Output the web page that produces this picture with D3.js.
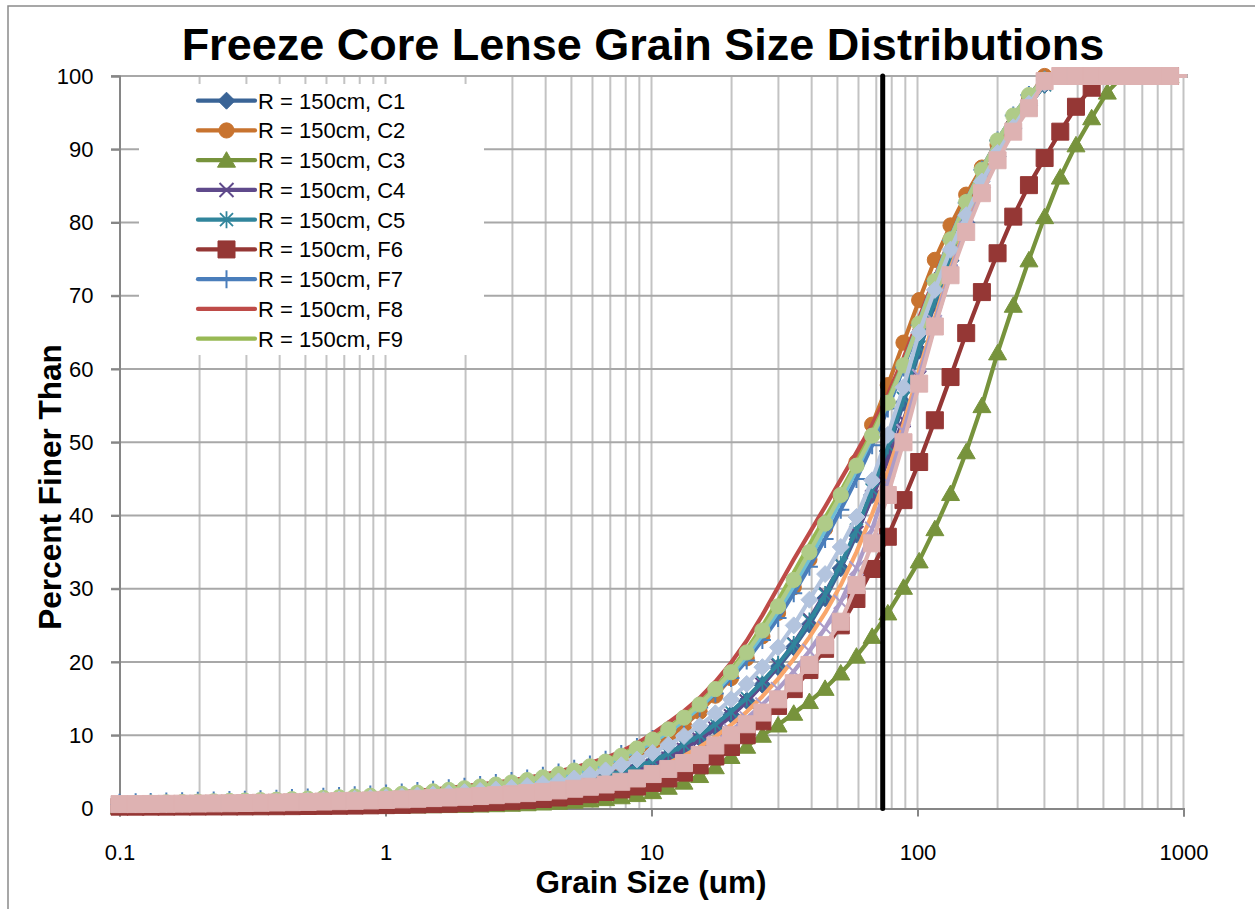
<!DOCTYPE html>
<html><head><meta charset="utf-8">
<script src="https://cdn.jsdelivr.net/npm/d3@7"></script>
<style>
body{margin:0;background:#fff;}
svg{display:block;font-family:"Liberation Sans",Arial,sans-serif;}
</style>
</head><body>
<svg id="chart" width="1255" height="909"></svg>
<script>
// ---------------- DATA ----------------
const sizes = [0.100,0.115,0.131,0.150,0.172,0.197,0.226,0.259,0.296,0.339,
  0.389,0.445,0.510,0.584,0.669,0.766,0.877,1.005,1.151,1.318,
  1.510,1.729,1.981,2.269,2.599,2.976,3.409,3.905,4.472,5.122,
  5.867,6.720,7.697,8.816,10.097,11.565,13.246,15.172,17.377,19.904,
  22.797,26.111,29.907,34.255,39.234,44.938,51.471,58.953,67.523,77.339,
  88.583,101.460,116.210,133.103,152.453,174.616,200.000,229.075,262.376,300.518,
  344.206,394.244,451.556,517.200,592.387,678.504,777.141,890.116,1019.515];

const C1 = [0.55,0.57,0.59,0.61,0.64,0.67,0.7,0.74,0.78,0.83,
  0.88,0.93,0.99,1.06,1.13,1.21,1.3,1.4,1.5,1.62,
  1.75,1.88,2.03,2.19,2.37,2.56,2.78,3.02,3.3,3.62,
  3.98,4.4,4.92,5.55,6.3,7.2,8.3,9.6,11.1,12.8,
  14.7,16.9,19.3,22.0,25.1,28.7,32.8,37.4,42.8,48.8,
  55.4,62.5,69.0,74.8,80.0,84.8,89.0,92.8,96.0,98.8,
  100,100,100,100,100,100,100,100,100];
const C2 = [0.52,0.53,0.55,0.56,0.58,0.6,0.62,0.65,0.68,0.7,
  0.75,0.8,0.85,0.9,0.95,1.0,1.1,1.2,1.3,1.4,
  1.5,1.65,1.8,1.95,2.15,2.4,2.7,3.0,3.4,3.9,
  4.5,5.2,6.0,7.0,8.2,9.6,11.3,13.2,15.4,17.8,
  20.5,23.5,26.7,30.2,34.0,38.2,42.6,47.3,52.4,57.8,
  63.6,69.4,74.9,79.6,83.8,87.5,90.6,93.3,97.2,100,
  100,100,100,100,100,100,100,100,100];
const C3 = [0.2,0.2,0.2,0.2,0.21,0.21,0.22,0.22,0.23,0.24,
  0.25,0.26,0.27,0.28,0.29,0.3,0.31,0.32,0.33,0.35,
  0.37,0.4,0.43,0.47,0.52,0.58,0.65,0.75,0.85,1.0,
  1.15,1.35,1.6,1.9,2.3,2.9,3.6,4.5,5.7,7.1,
  8.5,10.0,11.4,13.0,14.6,16.4,18.5,20.8,23.5,26.7,
  30.2,33.8,38.2,43.0,48.7,55.0,62.2,68.7,74.9,80.8,
  86.2,90.6,94.3,97.8,100,100,100,100,100];
const C4 = [0.52,0.54,0.56,0.58,0.6,0.63,0.66,0.69,0.73,0.77,
  0.81,0.86,0.91,0.97,1.03,1.1,1.18,1.27,1.36,1.46,
  1.57,1.69,1.82,1.96,2.11,2.27,2.44,2.63,2.85,3.1,
  3.4,3.8,4.3,5.0,5.8,6.8,8.0,9.4,10.9,12.6,
  14.6,16.9,19.5,22.5,25.8,29.4,33.3,37.6,42.5,47.5,
  53.0,58.8,66.0,73.2,79.3,84.6,89.0,92.8,96.0,99.4,
  100,100,100,100,100,100,100,100,100];
const C5 = [0.55,0.57,0.6,0.62,0.65,0.68,0.72,0.76,0.8,0.85,
  0.9,0.96,1.02,1.09,1.17,1.25,1.34,1.44,1.55,1.67,
  1.8,1.94,2.09,2.25,2.43,2.63,2.85,3.1,3.38,3.7,
  4.05,4.5,5.05,5.7,6.5,7.5,8.7,10.0,11.5,13.2,
  15.1,17.3,19.7,22.4,25.6,29.2,33.3,38.0,43.5,49.5,
  56.0,63.0,69.5,75.0,80.0,84.8,89.0,92.8,96.0,98.8,
  100,100,100,100,100,100,100,100,100];
const F6 = [0.25,0.25,0.26,0.26,0.27,0.27,0.28,0.28,0.29,0.3,
  0.31,0.32,0.34,0.36,0.38,0.4,0.43,0.46,0.5,0.55,
  0.6,0.65,0.72,0.8,0.9,1.0,1.15,1.3,1.5,1.7,
  1.95,2.25,2.6,3.0,3.5,4.1,4.9,5.9,7.1,8.4,
  10.0,11.9,14.0,16.3,18.9,21.8,25.0,28.6,32.7,37.1,
  42.1,47.3,53.0,58.9,64.9,70.5,75.8,80.8,85.1,88.8,
  92.4,95.8,98.4,100,100,100,100,100,100];
const F7 = [0.8,0.85,0.9,0.95,1.0,1.05,1.1,1.15,1.2,1.27,
  1.34,1.42,1.5,1.6,1.7,1.8,1.92,2.05,2.2,2.38,
  2.56,2.76,2.98,3.22,3.48,3.77,4.1,4.48,4.92,5.42,
  6.0,6.65,7.45,8.4,9.5,10.8,12.2,13.8,15.7,17.8,
  20.2,23.0,26.0,29.4,33.0,36.8,40.8,45.0,49.6,54.6,
  60.2,66.0,72.0,77.6,82.7,87.2,91.2,94.6,97.4,99.5,
  100,100,100,100,100,100,100,100,100];
const F8 = [0.8,0.85,0.9,0.95,1.0,1.05,1.1,1.15,1.2,1.27,
  1.34,1.42,1.5,1.6,1.7,1.8,1.92,2.05,2.2,2.4,
  2.6,2.8,3.05,3.3,3.55,3.85,4.2,4.6,5.05,5.6,
  6.2,6.9,7.8,8.9,10.2,11.7,13.3,15.1,17.3,19.9,
  22.9,26.4,30.2,34.0,37.6,41.2,44.9,48.6,52.4,56.5,
  61.5,67.0,72.5,78.0,83.0,87.3,91.2,94.5,97.3,99.4,
  100,100,100,100,100,100,100,100,100];
const F9 = [0.75,0.8,0.84,0.88,0.93,0.98,1.03,1.08,1.13,1.19,
  1.26,1.33,1.41,1.5,1.6,1.7,1.81,1.94,2.08,2.25,
  2.45,2.65,2.88,3.12,3.38,3.67,4.0,4.38,4.8,5.3,
  5.88,6.55,7.4,8.4,9.6,11.0,12.6,14.4,16.5,18.9,
  21.7,24.9,28.4,32.2,36.0,39.7,43.3,47.2,51.3,55.8,
  60.8,66.4,72.2,77.8,82.9,87.3,91.2,94.6,97.4,99.5,
  100,100,100,100,100,100,100,100,100];
const F10 = [0.65,0.68,0.71,0.74,0.77,0.81,0.85,0.89,0.94,0.99,
  1.04,1.1,1.17,1.24,1.32,1.41,1.51,1.62,1.74,1.88,
  2.03,2.2,2.4,2.62,2.87,3.15,3.48,3.85,4.3,4.8,
  5.4,6.1,6.9,7.9,9.0,10.4,12.0,13.8,15.9,18.2,
  20.8,23.7,26.9,30.4,34.1,38.0,42.0,46.2,50.6,55.3,
  60.6,66.4,72.3,77.9,82.9,87.3,91.2,94.6,97.4,99.5,
  100,100,100,100,100,100,100,100,100];
const F11 = [0.5,0.52,0.54,0.56,0.58,0.6,0.63,0.66,0.69,0.72,
  0.76,0.8,0.85,0.9,0.95,1.01,1.08,1.15,1.23,1.32,
  1.42,1.53,1.65,1.78,1.92,2.07,2.23,2.41,2.61,2.84,
  3.15,3.55,4.05,4.65,5.35,6.2,7.2,8.4,9.8,11.4,
  13.2,15.3,17.7,20.4,23.4,26.7,30.5,35.0,40.2,46.0,
  52.5,59.8,67.0,73.8,79.6,84.6,89.0,92.8,96.0,99.2,
  100,100,100,100,100,100,100,100,100];
const F12 = [0.7,0.75,0.8,0.84,0.88,0.93,0.98,1.03,1.08,1.14,
  1.2,1.27,1.35,1.44,1.53,1.63,1.74,1.86,2.0,2.16,
  2.34,2.54,2.76,3.0,3.26,3.55,3.88,4.25,4.68,5.18,
  5.75,6.4,7.2,8.2,9.4,10.8,12.4,14.2,16.3,18.6,
  21.3,24.3,27.6,31.2,35.0,38.9,42.8,46.8,50.9,55.4,
  60.5,66.2,72.0,77.7,82.8,87.2,91.2,94.6,97.4,99.5,
  100,100,100,100,100,100,100,100,100];
const F13 = [0.52,0.54,0.56,0.58,0.6,0.62,0.64,0.67,0.7,0.73,
  0.77,0.81,0.85,0.9,0.95,1.0,1.06,1.13,1.2,1.28,
  1.37,1.46,1.56,1.67,1.79,1.92,2.07,2.24,2.43,2.64,
  2.9,3.2,3.6,4.1,4.7,5.5,6.4,7.6,9.0,10.6,
  12.3,14.2,16.3,18.7,21.5,24.6,28.2,32.8,38.2,44.5,
  51.5,59.0,66.4,73.3,79.2,84.3,88.8,92.6,95.8,99.2,
  100,100,100,100,100,100,100,100,100];
const F14 = [0.55,0.57,0.6,0.63,0.66,0.7,0.74,0.78,0.83,0.88,
  0.93,1.0,1.07,1.15,1.23,1.32,1.42,1.53,1.65,1.78,
  1.92,2.07,2.23,2.4,2.6,2.82,3.07,3.35,3.7,4.1,
  4.6,5.2,5.9,6.7,7.6,8.7,9.9,11.3,13.0,14.9,
  17.0,19.3,22.0,25.0,28.5,32.0,35.7,39.8,44.8,51.0,
  57.5,65.0,70.8,76.3,81.0,85.6,89.5,93.0,96.2,99.0,
  100,100,100,100,100,100,100,100,100];
const F15 = [0.6,0.6,0.62,0.64,0.66,0.68,0.7,0.72,0.75,0.78,
  0.82,0.86,0.9,0.95,1.0,1.05,1.1,1.17,1.25,1.33,
  1.42,1.5,1.6,1.7,1.82,1.95,2.1,2.27,2.47,2.7,
  2.97,3.28,3.65,4.1,4.7,5.4,6.2,7.3,8.6,10.0,
  11.5,13.1,14.9,17.1,19.6,22.3,25.5,30.5,36.2,42.8,
  50.0,58.0,65.8,72.8,78.7,84.0,88.5,92.4,95.6,99.3,
  100,100,100,100,100,100,100,100,100];

const seriesNames = ["R = 150cm, C1","R = 150cm, C2","R = 150cm, C3","R = 150cm, C4","R = 150cm, C5",
  "R = 150cm, F6","R = 150cm, F7","R = 150cm, F8","R = 150cm, F9","R = 150cm, F10",
  "R = 150cm, F11","R = 150cm, F12","R = 150cm, F13","R = 150cm, F14","R = 150cm, F15"];
const seriesValues = [C1,C2,C3,C4,C5,F6,F7,F8,F9,F10,F11,F12,F13,F14,F15];
const cutoffX = [74, 74];
const cutoffY = [0, 100];
const yTickValues = [0,10,20,30,40,50,60,70,80,90,100];
const xTickValues = [0.1,1,10,100,1000];
const xTickLabels = ["0.1","1","10","100","1000"];
const legendCount = 9;

// ---------------- STYLE ----------------
const seriesColors = ["#3A6496","#C8732F","#77933C","#5F4A8B","#31859C",
  "#953735","#4A7EBB","#BE4B48","#98B954","#6EBFD6",
  "#F9A66B","#AFCB88","#AC9CC8","#B3C4DE","#DEB2B2"];
const seriesMarkers = ["diamond","circle","triangle","x","star","square","plus","none","none",
  "none","none","circle","x","diamond","square"];

const svg = d3.select("#chart");
const L = 119.5, R = 1183.5, T = 76, B = 808.5;
const x = d3.scaleLog().domain([0.1, 1000]).range([L, R]);
const y = d3.scaleLinear().domain([0, 100]).range([B, T]);

// outer chart border
svg.append("rect").attr("x", 8).attr("y", 6).attr("width", 1270).attr("height", 930)
  .attr("fill", "#fff").attr("stroke", "#8a8a8a").attr("stroke-width", 1.5);

// gridlines
const gGrid = svg.append("g");
gGrid.selectAll("line.v").data(x.ticks().filter(v => v > 0.1 * 1.0001))
  .join("line").attr("class", "v")
  .attr("x1", d => x(d)).attr("x2", d => x(d)).attr("y1", T).attr("y2", B)
  .attr("stroke", "#c3c3c3").attr("stroke-width", 2);
gGrid.selectAll("line.h").data(yTickValues.filter(v => v > 0))
  .join("line").attr("class", "h")
  .attr("x1", L - 8.5).attr("x2", R).attr("y1", d => y(d)).attr("y2", d => y(d))
  .attr("stroke", "#a8a8a8").attr("stroke-width", 2);

// axes
const yAxis = d3.axisLeft(y).tickValues(yTickValues).tickSize(8.5).tickPadding(18);
const gy = svg.append("g").attr("transform", `translate(${L},0)`).call(yAxis);
gy.select(".domain").attr("stroke", "#868686").attr("stroke-width", 2);
gy.selectAll(".tick line").attr("stroke", "#868686").attr("stroke-width", 2);
gy.selectAll(".tick text").attr("font-size", 22).attr("fill", "#000")
  .attr("font-family", "Liberation Sans, Arial, sans-serif").attr("x", -26);

const xAxis = d3.axisBottom(x).tickValues(xTickValues).tickFormat((d, i) => xTickLabels[i]).tickSize(8).tickPadding(28);
const gx = svg.append("g").attr("transform", `translate(0,${B})`).call(xAxis);
gx.select(".domain").attr("stroke", "#868686").attr("stroke-width", 2);
gx.selectAll(".tick line").attr("stroke", "#868686").attr("stroke-width", 2);
gx.selectAll(".tick text").attr("font-size", 22).attr("fill", "#000")
  .attr("font-family", "Liberation Sans, Arial, sans-serif");

// markers
function markerPath(type) {
  switch (type) {
    case "diamond": return "M0,-8.5L8.5,0L0,8.5L-8.5,0Z";
    case "circle": return d3.symbol(d3.symbolCircle, Math.PI * 7.6 * 7.6)();
    case "triangle": return "M0,-8.5L9,7L-9,7Z";
    case "square": return "M-8.5,-8.5L8.5,-8.5L8.5,8.5L-8.5,8.5Z";
    case "x": return "M-7,-7L7,7M-7,7L7,-7";
    case "star": return "M-6.5,-6.5L6.5,6.5M-6.5,6.5L6.5,-6.5M0,-8.5L0,8.5";
    case "plus": return "M-8.5,0L8.5,0M0,-9L0,9";
    default: return null;
  }
}
const strokeOnly = {x: 2, star: 1.8, plus: 2};
function drawMarker(sel, type, color) {
  const d = markerPath(type);
  if (!d) return;
  const p = sel.append("path").attr("d", d);
  if (strokeOnly[type]) p.attr("fill", "none").attr("stroke", color).attr("stroke-width", strokeOnly[type]);
  else p.attr("fill", color).attr("stroke", color).attr("stroke-width", 1);
}

svg.append("defs").append("clipPath").attr("id", "clipR")
  .append("rect").attr("x", 0).attr("y", 0).attr("width", R + 4).attr("height", 909);

const line = d3.line().x(d => x(d[0])).y(d => y(d[1]));
const gSeries = svg.append("g");
seriesValues.forEach((vals, si) => {
  const pts = sizes.map((s, i) => [s, vals[i]]);
  const g = gSeries.append("g");
  g.append("path").attr("d", line(pts)).attr("fill", "none")
    .attr("stroke", seriesColors[si]).attr("stroke-width", 4.2)
    .attr("stroke-linejoin", "round").attr("stroke-linecap", "round")
    .attr("clip-path", "url(#clipR)");
  if (seriesMarkers[si] !== "none") {
    pts.filter(p => p[0] <= 1000).forEach(p => {
      const m = g.append("g").attr("transform", `translate(${x(p[0])},${y(p[1])})`);
      drawMarker(m, seriesMarkers[si], seriesColors[si]);
    });
  }
});

// vertical cutoff line (74 um)
svg.append("path")
  .attr("d", line(cutoffX.map((v, i) => [v, cutoffY[i]])))
  .attr("stroke", "#000").attr("stroke-width", 5).attr("stroke-linecap", "round").attr("fill", "none");

// legend
const lg = svg.append("g");
lg.append("rect").attr("x", 139).attr("y", 84).attr("width", 345).attr("height", 271).attr("fill", "#fff");
seriesNames.slice(0, legendCount).forEach((name, i) => {
  const cy = 100.7 + i * 29.75;
  const row = lg.append("g");
  row.append("line").attr("x1", 198).attr("x2", 255).attr("y1", cy).attr("y2", cy)
    .attr("stroke", seriesColors[i]).attr("stroke-width", 4.2).attr("stroke-linecap", "round");
  const m = row.append("g").attr("transform", `translate(226.5,${cy})`);
  drawMarker(m, seriesMarkers[i], seriesColors[i]);
  row.append("text").attr("x", 258).attr("y", cy).attr("dy", "0.36em")
    .attr("font-size", 22).attr("fill", "#000").text(name);
});

// titles
svg.append("text").attr("x", 643).attr("y", 60).attr("text-anchor", "middle")
  .attr("font-size", 45).attr("font-weight", "bold").attr("fill", "#000")
  .text("Freeze Core Lense Grain Size Distributions");
svg.append("text").attr("x", 651).attr("y", 893).attr("text-anchor", "middle")
  .attr("font-size", 31.5).attr("font-weight", "bold").attr("fill", "#000")
  .text("Grain Size (um)");
svg.append("text").attr("transform", "translate(61,487) rotate(-90)").attr("text-anchor", "middle")
  .attr("font-size", 31.5).attr("font-weight", "bold").attr("fill", "#000")
  .text("Percent Finer Than");
</script>
</body></html>
